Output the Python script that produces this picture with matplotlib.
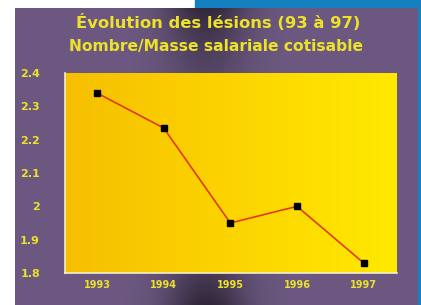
import numpy as np
import matplotlib
matplotlib.use("Agg")
import matplotlib.pyplot as plt
from matplotlib.colors import LinearSegmentedColormap
from matplotlib.patches import Rectangle

# data
years = [1993, 1994, 1995, 1996, 1997]
values = [2.34, 2.235, 1.95, 2.0, 1.83]
year_labels = ["1993", "1994", "1995", "1996", "1997"]
y_ticks = [1.8, 1.9, 2.0, 2.1, 2.2, 2.3, 2.4]
y_tick_labels = ["1.8", "1.9", "2", "2.1", "2.2", "2.3", "2.4"]

title1 = "Évolution des lésions (93 à 97)"
title2 = "Nombre/Masse salariale cotisable"

W, H = 421, 305
PURPLE = "#6c5880"
TXT = "#ece22a"

fig = plt.figure(figsize=(W / 100, H / 100), dpi=100)
fig.patch.set_facecolor("white")

# background: purple card with a darker smudge in the middle (scan look)
bg = fig.add_axes([15 / W, 0, (418 - 15) / W, 1 - 8 / H])
bg.set_axis_off()
gx = np.linspace(-1, 1, 300)
gy = np.linspace(-1, 1, 200)
X, Y = np.meshgrid(gx, gy)
dark = np.exp(-((X + 0.05) / 0.2) ** 2) * (0.25 + 0.75 * np.abs(Y) ** 3)
base = np.array(matplotlib.colors.to_rgb(PURPLE))
img = base[None, None, :] * (1 - 0.55 * dark[:, :, None])
bg.imshow(img, extent=(0, 1, 0, 1), aspect="auto", interpolation="bilinear")
bg.set_xlim(0, 1)
bg.set_ylim(0, 1)

# blue strips of the page around the card
fig.patches.append(Rectangle((195 / W, 1 - 8 / H), 1, 8 / H, transform=fig.transFigure,
                             color="#1580c0", zorder=-1))
fig.patches.append(Rectangle((418 / W, 0), 1, 1, transform=fig.transFigure,
                             color="#1580c0", zorder=-1))

ax = fig.add_axes([65 / W, 1 - 273 / H, (397 - 65) / W, (273 - 73) / H])
ax.set_xlim(1992.52, 1997.5)
ax.set_ylim(1.8, 2.4)

cmap = LinearSegmentedColormap.from_list("yel", ["#f6bf00", "#fcd400", "#ffe900"])
grad = np.linspace(0, 1, 256)[None, :]
ax.imshow(grad, cmap=cmap, extent=(1992.52, 1997.5, 1.8, 2.4), aspect="auto", zorder=0)

ax.plot(years, values, color="#e23a1c", lw=1.2, zorder=2)
ax.plot(years, values, ls="none", marker="s", ms=4.5, color="black", zorder=3)

ax.set_xticks(years)
ax.set_xticklabels(year_labels)
ax.set_yticks(y_ticks)
ax.set_yticklabels(y_tick_labels)
ax.tick_params(length=0, colors=TXT, labelsize=7)
ax.tick_params(axis="y", pad=18, labelsize=8)
ax.tick_params(axis="x", pad=5)
for lab in ax.get_xticklabels() + ax.get_yticklabels():
    lab.set_fontweight("bold")

for s in ["top", "right"]:
    ax.spines[s].set_visible(False)
for s in ["left", "bottom"]:
    ax.spines[s].set_color("#f4efc8")
    ax.spines[s].set_linewidth(1.2)

fig.text(218 / W, 1 - 23 / H, title1, color=TXT, fontsize=11.8, fontweight="bold",
         ha="center", va="center")
fig.text(216 / W, 1 - 46 / H, title2, color=TXT, fontsize=11.2, fontweight="bold",
         ha="center", va="center")

fig.savefig("out.png", dpi=100)
